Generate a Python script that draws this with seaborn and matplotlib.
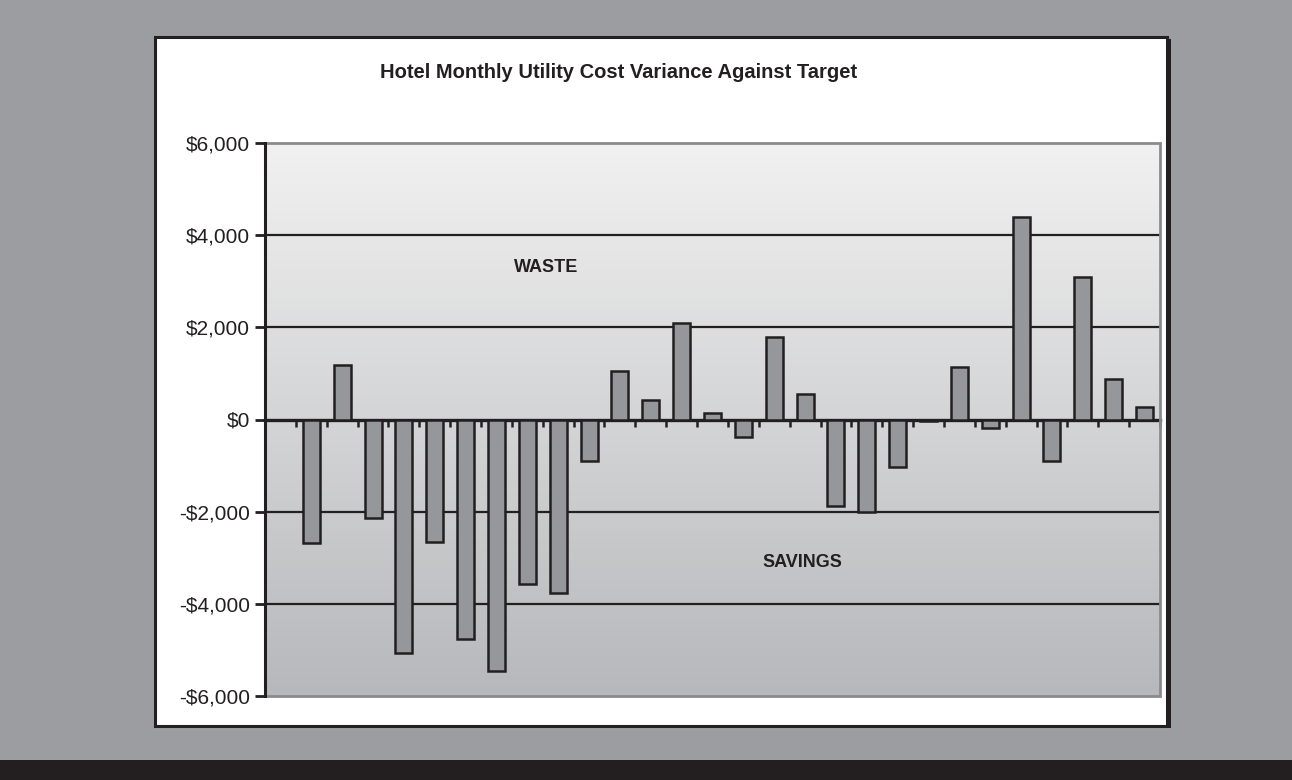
import matplotlib
matplotlib.use("Agg")
import matplotlib.pyplot as plt
import numpy as np
import seaborn as sns
from matplotlib.colors import LinearSegmentedColormap
from matplotlib.patches import Rectangle

months = ["Jan 1", "Feb 1", "Mar 1", "Apr 1", "May 1", "Jun 1", "Jul 1",
          "Aug 1", "Sep 1", "Oct 1", "Nov 1", "Dec 1", "Jan 2", "Feb 2",
          "Mar 2", "Apr 2", "May 2", "Jun 2", "Jul 2", "Aug 2", "Sep 2",
          "Oct 2", "Nov 2", "Dec 2", "Jan 3", "Feb 3", "Mar 3", "Apr 3"]
variance = [-2670, 1190, -2140, -5070, -2660, -4760, -5460, -3570, -3770,
            -900, 1060, 420, 2100, 150, -380, 1780, 550, -1870, -2000,
            -1040, -30, 1130, -190, 4390, -910, 3090, 870, 280]
yticks = [-6000, -4000, -2000, 0, 2000, 4000, 6000]
ytick_labels = ["-$6,000", "-$4,000", "-$2,000", "$0", "$2,000", "$4,000", "$6,000"]

sns.set_style("white")
plt.rcParams["font.family"] = ["Liberation Sans", "DejaVu Sans"]

outer_gray = "#9c9da1"
ink = "#231f20"

fig = plt.figure(figsize=(12.92, 7.80), dpi=100, facecolor=outer_gray)

# dark band at the bottom and the white chart box with shadow
fig.patches.append(Rectangle((0, 0), 1, 20 / 780, transform=fig.transFigure,
                             facecolor=ink, edgecolor="none", zorder=0))
fig.patches.append(Rectangle((157 / 1292, 52 / 780), 1014 / 1292, 689 / 780,
                             transform=fig.transFigure, facecolor=ink,
                             edgecolor="none", zorder=1))
fig.patches.append(Rectangle((155 / 1292, 54 / 780), 1012 / 1292, 689 / 780,
                             transform=fig.transFigure, facecolor="white",
                             edgecolor=ink, linewidth=2.2, zorder=2))

ax = fig.add_axes([265 / 1292, 84 / 780, 895 / 1292, 553 / 780])
ax.set_zorder(10)
ax.set_facecolor("none")

# gradient plot area
grad = LinearSegmentedColormap.from_list("bg", ["#b7b8bb", "#f1f1f1"])
ax.imshow(np.linspace(0, 1, 256).reshape(-1, 1), cmap=grad, origin="lower",
          extent=[0, 1, 0, 1], transform=ax.transAxes, aspect="auto", zorder=0)

for y in [-4000, -2000, 2000, 4000]:
    ax.axhline(y, color=ink, linewidth=1.6, zorder=1)

sns.barplot(x=months, y=variance, color="#96979b", saturation=1, width=0.55,
            edgecolor=ink, linewidth=1.8, ax=ax, zorder=3)

ax.set_xlim(-1.5, 27.5)
ax.set_ylim(-6000, 6000)
ax.set_xlabel("")
ax.set_ylabel("")

ax.set_yticks(yticks)
ax.set_yticklabels(ytick_labels, fontsize=15, color=ink)
ax.set_xticks(np.arange(-0.5, 28, 1.0))
ax.set_xticklabels([])
ax.tick_params(axis="y", left=True, direction="out", length=7, width=2,
               color=ink, pad=4)
ax.tick_params(axis="x", bottom=True, direction="out", length=5, width=1.8,
               color=ink)

# frame: gray border, black y-axis, zero line as the x-axis
ax.add_patch(Rectangle((0, 0), 1, 1, transform=ax.transAxes, fill=False,
                       edgecolor="#8a8b8e", linewidth=2, zorder=4, clip_on=False))
for side in ["top", "right"]:
    ax.spines[side].set_visible(False)
ax.spines["left"].set_color(ink)
ax.spines["left"].set_linewidth(2.2)
ax.spines["left"].set_zorder(5)
ax.spines["bottom"].set_position(("data", 0))
ax.spines["bottom"].set_color(ink)
ax.spines["bottom"].set_linewidth(2.4)
ax.spines["bottom"].set_zorder(2)

ax.text(7.6, 3300, "WASTE", fontsize=13, fontweight="bold", color=ink,
        ha="center", va="center")
ax.text(15.9, -3100, "SAVINGS", fontsize=13, fontweight="bold", color=ink,
        ha="center", va="center")

fig.text(619 / 1292, 1 - 73 / 780,
         "Hotel Monthly Utility Cost Variance Against Target",
         fontsize=14.5, fontweight="bold", color=ink, ha="center", va="center")

fig.savefig("out.png", dpi=100, facecolor=outer_gray)
